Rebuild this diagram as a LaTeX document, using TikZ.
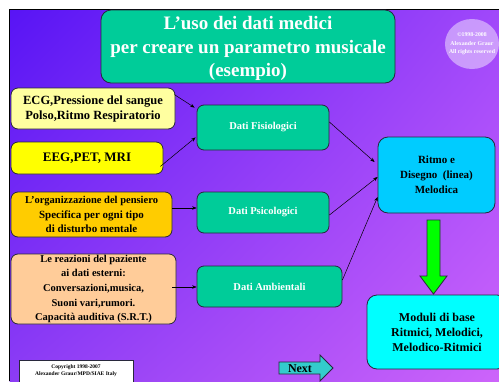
\documentclass[tikz,border=0pt]{standalone}
\usepackage{fontspec}
\setmainfont{Liberation Serif}
\usetikzlibrary{arrows.meta,calc,shadings}
\definecolor{tealbox}{RGB}{0,204,153}
\definecolor{lyellow}{RGB}{255,255,160}
\definecolor{yel}{RGB}{255,255,0}
\definecolor{orangebox}{RGB}{255,204,0}
\definecolor{peach}{RGB}{255,204,153}
\definecolor{skyc}{RGB}{0,204,255}
\definecolor{aqua}{RGB}{0,255,255}
\definecolor{lime}{RGB}{0,255,0}
\definecolor{nextc}{RGB}{51,204,204}
\definecolor{bgA}{RGB}{88,20,245}
\definecolor{bgB}{RGB}{160,72,250}
\definecolor{bgC}{RGB}{140,60,245}
\definecolor{bgD}{RGB}{205,100,250}
\definecolor{edge}{RGB}{40,40,60}
\tikzset{
  box/.style={draw=edge, line width=0.8pt, rounded corners=7pt, inner sep=0pt, align=center},
  tealnode/.style={box, fill=tealbox, text=white, font=\fontsize{10.5}{13}\selectfont\bfseries},
  srcnode/.style={box, text=black},
  conn/.style={line width=0.5pt, -{Stealth[length=4.5pt,width=3.5pt]}},
}
\begin{document}
\begin{tikzpicture}[x=1pt,y=-1pt]
\useasboundingbox (0,0) rectangle (499,381);
\fill[white] (0,0) rectangle (499,381);
\shade[upper left=bgA, upper right=bgB, lower left=bgC, lower right=bgD] (9.5,9.5) rectangle (499,381);
\draw[black, line width=1pt] (9.5,381) -- (9.5,9.5) -- (499,9.5);

% title
\node[box, rounded corners=10pt, fill=tealbox, minimum width=294pt, minimum height=73pt] (title) at (248,46.5) {};
\node[text=white, align=center, inner sep=0pt, font=\fontsize{19}{23.5}\selectfont\bfseries] (titletext) at (248,48.5)
  {L’uso dei dati medici\\per creare un parametro musicale\\(esempio)};

% copyright ellipse
\fill[white, opacity=0.45] (472,44) ellipse [x radius=27pt, y radius=25pt];
\node[text=white, align=center, font=\fontsize{5.8}{8.5}\selectfont\bfseries, inner sep=0pt] (cr) at (472,44)
  {©1998-2008\\Alexander Graur\\All rights reserved};

% sources
\node[srcnode, fill=lyellow, minimum width=164pt, minimum height=41pt, font=\fontsize{12.5}{15}\selectfont\bfseries] (ecg) at (93,108.5)
  {ECG,Pressione del sangue\\Polso,Ritmo Respiratorio};
\node[srcnode, fill=yel, minimum width=152pt, minimum height=32pt, font=\fontsize{13}{15}\selectfont\bfseries] (eeg) at (87,158)
  {EEG,PET, MRI};
\node[srcnode, fill=orangebox, minimum width=161pt, minimum height=45pt, font=\fontsize{11}{14.5}\selectfont\bfseries] (org) at (91.5,214.5)
  {{\fontsize{10.5}{14.5}\selectfont L’organizzazione del pensiero}\\Specifica per ogni tipo\\di disturbo mentale};
\node[srcnode, fill=peach, minimum width=165pt, minimum height=70pt, font=\fontsize{10.5}{14.7}\selectfont\bfseries] (rea) at (93.5,289)
  {Le reazioni del paziente\\ai dati esterni:\\Conversazioni,musica,\\Suoni vari,rumori.\\Capacità auditiva (S.R.T.)};

% data boxes
\node[tealnode, minimum width=132pt, minimum height=45pt] (fis) at (263,127.5) {Dati Fisiologici};
\node[tealnode, minimum width=132pt, minimum height=41pt] (psi) at (263,212.5) {Dati Psicologici};
\node[tealnode, minimum width=145pt, minimum height=41pt] (amb) at (269.5,286.5) {Dati Ambientali};

% result boxes
\node[box, rounded corners=10pt, fill=skyc, minimum width=117pt, minimum height=76pt, font=\fontsize{11}{15}\selectfont\bfseries] (rit) at (436.5,175)
  {Ritmo e\\Disegno\ \ (linea)\\Melodica};
\node[box, rounded corners=10pt, fill=aqua, minimum width=140pt, minimum height=74pt, font=\fontsize{12}{15}\selectfont\bfseries] (mod) at (437,332)
  {Moduli di base\\Ritmici, Melodici,\\Melodico-Ritmici};

% connectors
\coordinate (e1) at ($(ecg.north east)+(-1,7)$);
\coordinate (f1) at ($(fis.north west)+(-2,3)$);
\draw[conn] (e1) -- (f1);
\coordinate (e2) at ($(eeg.south east)+(-3,-8)$);
\coordinate (f2) at ($(fis.south west)+(-1,-13)$);
\draw[conn] (e2) -- (f2);
\coordinate (f3) at ($(fis.east)+(0,-5.5)$);
\coordinate (r1) at ($(rit.west)+(-3,-13)$);
\draw[conn] (f3) -- (r1);
\coordinate (p1) at ($(psi.east)+(0,2.5)$);
\coordinate (r2) at ($(rit.west)+(0,2)$);
\draw[conn] (p1) -- (r2);
\coordinate (a1) at ($(amb.east)+(0,-6.5)$);
\coordinate (r3) at ($(rit.west)+(0,22)$);
\draw[conn] (a1) -- (r3);
\draw[conn] ($(org.east)+(0,-6.5)$) coordinate (o1) -- (o1 -| psi.west);
\draw[conn] ($(rea.east)+(-4,-2)$) coordinate (q1) -- (q1 -| amb.west);

% green block arrow
\draw[edge, line width=0.8pt, fill=lime] (427,220) -- (440,220) -- (440,276) -- (447,276) -- (433.5,294)
  -- (420,276) -- (427,276) -- cycle;

% next arrow
\draw[edge, line width=0.8pt, fill=nextc] (279,362) -- (320,362) -- (320,355) -- (333,368) -- (320,381)
  -- (320,374) -- (279,374) -- cycle;
\node[font=\fontsize{12}{14}\selectfont\bfseries, inner sep=0pt] (next) at (300,368.5) {Next};

% copyright box
\draw[edge, line width=0.5pt, fill=white] (19,385) -- (19,360) -- (133,360) -- (133,385);
\node[align=center, font=\fontsize{5.5}{7}\selectfont\bfseries, inner sep=0pt] (copy) at (76,370.5)
  {Copyright 1998-2007\\Alexander Graur/MPD/SIAE Italy};
\end{tikzpicture}
\end{document}
